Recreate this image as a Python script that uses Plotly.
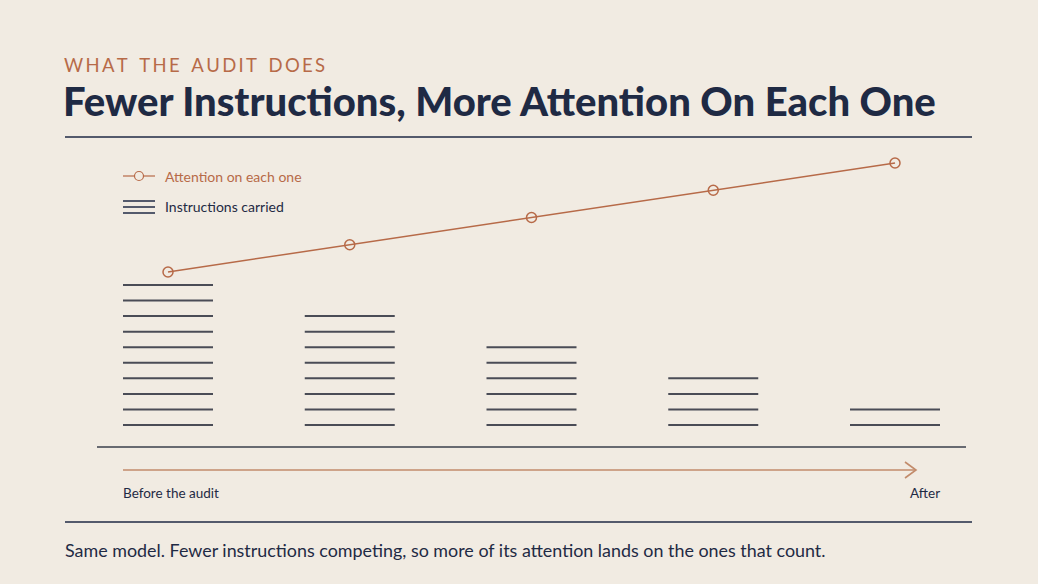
import plotly.graph_objects as go

# ---- data ----
stages = ["Before the audit", "", "", "", "After"]
stage_index = [0, 1, 2, 3, 4]
instructions_carried = [10, 8, 6, 4, 2]
attention_each = [1, 2, 3, 4, 5]

W, H = 1038, 584
BG = "#F1EBE2"
NAVY = "#1F2A44"
ORANGE = "#B76A48"
TAN = "#C28B6B"
GRAYLINE = "#4A4C56"
FONT = "Lato"

def px(x):
    return x / W

def py(y):
    return 1 - y / H

fig = go.Figure()

# instruction stacks: one short horizontal line per instruction
half_w = 0.2476
xs, ys = [], []
for c, n in zip(stage_index, instructions_carried):
    for k in range(1, n + 1):
        xs += [c - half_w, c + half_w, None]
        ys += [k, k, None]
fig.add_trace(go.Scatter(x=xs, y=ys, mode="lines",
                         line=dict(color=GRAYLINE, width=2),
                         hoverinfo="skip", showlegend=False))

# attention line
fig.add_trace(go.Scatter(x=stage_index, y=attention_each, mode="lines+markers",
                         yaxis="y2",
                         line=dict(color=ORANGE, width=1.5),
                         marker=dict(symbol="circle-open", size=10,
                                     color=ORANGE, line=dict(width=1.5)),
                         hoverinfo="skip", showlegend=False))

shapes = []
annotations = []

def hline(x0, x1, y, color, width):
    shapes.append(dict(type="line", xref="paper", yref="paper",
                       x0=px(x0), x1=px(x1), y0=py(y), y1=py(y),
                       line=dict(color=color, width=width)))

def text(x, y, s, size, color, xanchor="left", weight="normal"):
    annotations.append(dict(x=px(x), y=py(y), xref="paper", yref="paper",
                            text=s, showarrow=False, xanchor=xanchor,
                            yanchor="middle", borderpad=0,
                            font=dict(family=FONT, size=size, color=color,
                                      weight=weight)))

# header
kicker = "\u2009".join(list("WHAT THE AUDIT DOES")).replace("\u2009 \u2009", "\u2009\u2009 \u2009")
text(63, 65, kicker, 18.5, ORANGE)
text(62, 100.5, "Fewer Instructions, More Attention On Each One", 40, NAVY, weight=900)
hline(65, 972, 137, NAVY, 1.5)

# legend
hline(123, 155, 176, ORANGE, 1.2)
shapes.append(dict(type="circle", xref="paper", yref="paper",
                   x0=px(134.5), x1=px(143.5), y0=py(171.5), y1=py(180.5),
                   line=dict(color=ORANGE, width=1.2), fillcolor=BG))
text(164, 176, "Attention on each one", 14, ORANGE)
for yy in (201, 207, 213):
    hline(123, 155, yy, NAVY, 1.5)
text(164, 207, "Instructions carried", 14, NAVY)

# baseline
hline(97, 966, 447, "#3A3F4B", 1.5)

# progress arrow
hline(123, 916, 470, TAN, 1.6)
shapes.append(dict(type="path", xref="paper", yref="paper",
                   path=f"M {px(905)} {py(462)} L {px(916)} {py(470)} L {px(905)} {py(478)}",
                   line=dict(color=TAN, width=1.6)))
text(122, 493, stages[0], 13.5, NAVY)
text(941, 493, stages[-1], 13.5, NAVY, xanchor="right")

# footer
hline(65, 972, 522, NAVY, 1.5)
text(64, 550, "Same model. Fewer instructions competing, so more of its attention lands on the ones that count.",
     17.9, NAVY)

# axes mapped so data land at the reference pixel positions
step_x = 181.75
x_range = [(0 - 168) / step_x, (W - 168) / step_x]
step_y = 140 / 9
y_range = [1 - (H - 425) / step_y, 1 + 425 / step_y]
step_y2 = 27.25
y2_range = [1 - (H - 272) / step_y2, 1 + 272 / step_y2]

fig.update_layout(
    width=W, height=H,
    margin=dict(l=0, r=0, t=0, b=0),
    paper_bgcolor=BG, plot_bgcolor=BG,
    xaxis=dict(range=x_range, domain=[0, 1], visible=False, fixedrange=True),
    yaxis=dict(range=y_range, domain=[0, 1], visible=False, fixedrange=True),
    yaxis2=dict(range=y2_range, overlaying="y", visible=False, fixedrange=True),
    shapes=shapes,
    annotations=annotations,
    showlegend=False,
)

fig.write_html("out.html", config={"displayModeBar": False})
